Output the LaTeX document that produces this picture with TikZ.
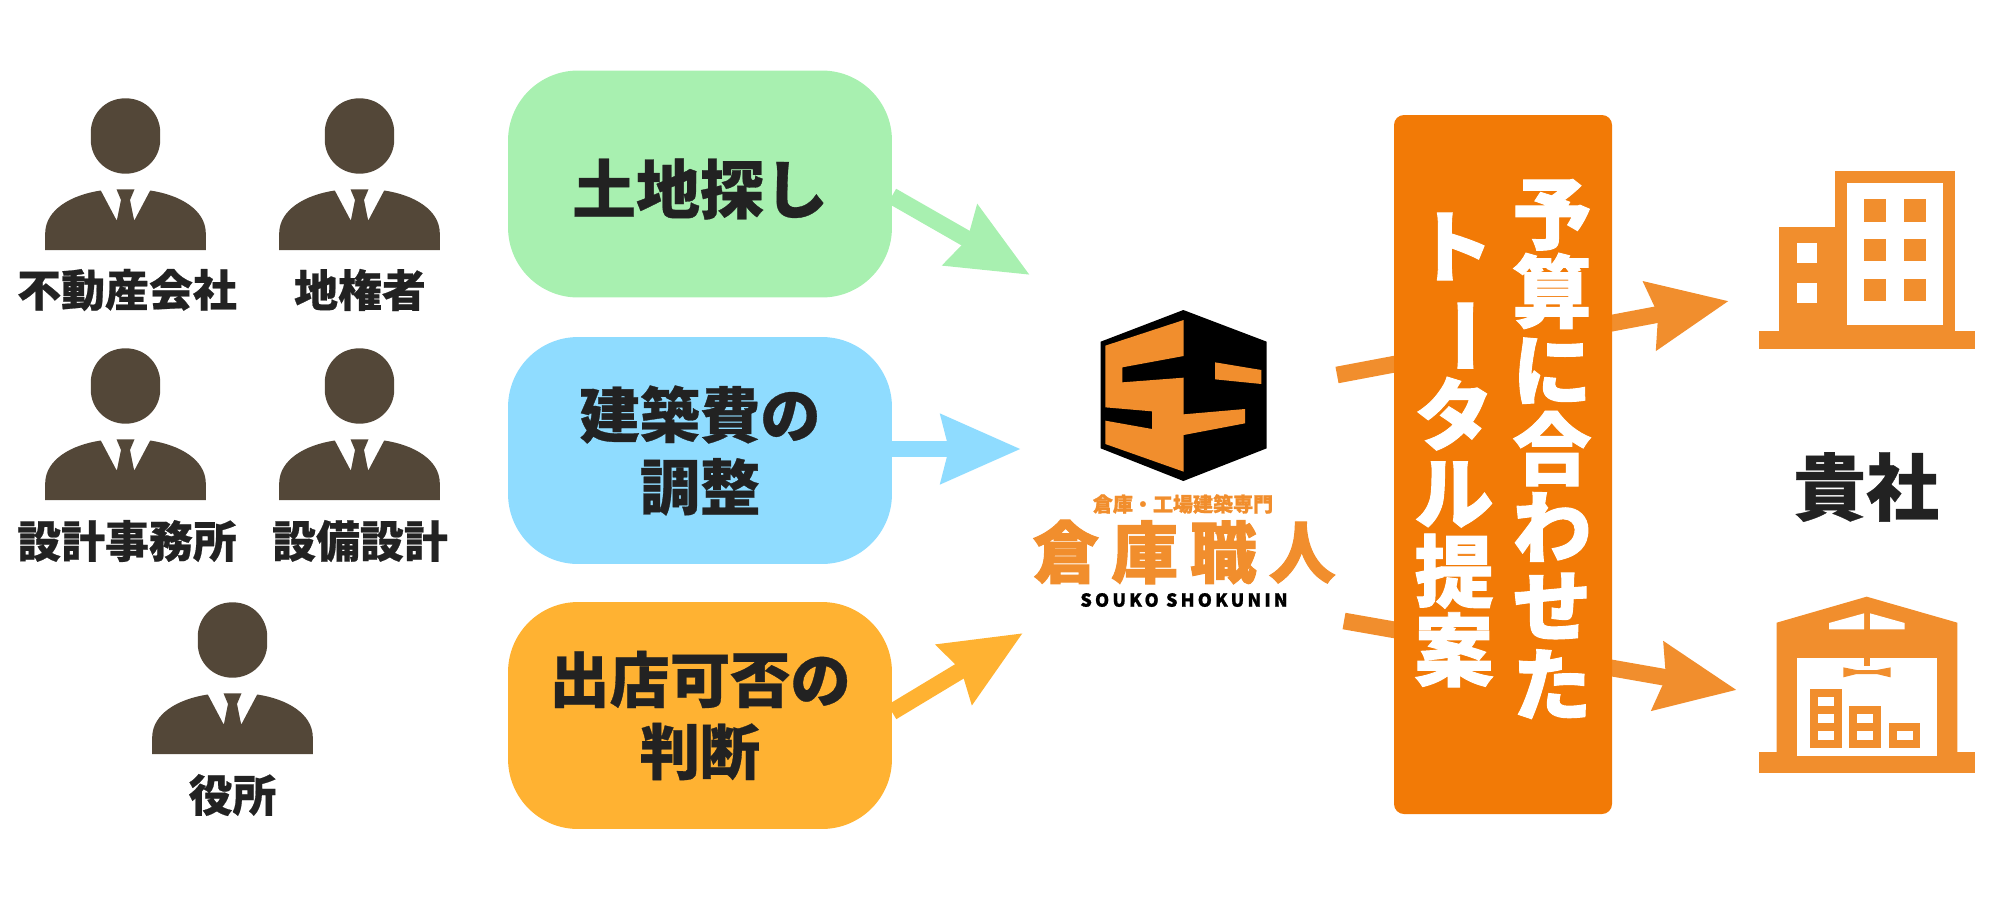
\documentclass[tikz,border=0pt]{standalone}
\usepackage{fontspec}
\usetikzlibrary{arrows.meta}
\newfontfamily\jpfont[BoldFeatures={FakeBold=0.5}]{Noto Sans CJK JP}
\newfontfamily\jpheavy[BoldFeatures={FakeBold=1.2}]{Noto Sans CJK JP}
\newfontfamily\jplogo[LetterSpace=18,BoldFeatures={FakeBold=1.5}]{Noto Sans CJK JP}
\newfontfamily\jproman[LetterSpace=18,BoldFeatures={FakeBold=1}]{Noto Sans CJK JP}
\definecolor{suit}{HTML}{534738}
\definecolor{ink}{HTML}{222222}
\definecolor{mygreen}{HTML}{A8F0B0}
\definecolor{myblue}{HTML}{8FDCFF}
\definecolor{myyellow}{HTML}{FFB232}
\definecolor{boxorange}{HTML}{F27A06}
\definecolor{brand}{HTML}{F18E2D}
\tikzset{
  person label/.style={text=ink,font=\jpfont\bfseries\fontsize{25}{30}\selectfont},
  topic/.style={rounded corners=1.4cm,minimum width=7.68cm,minimum height=4.54cm,align=center,
    text=ink,font=\jpfont\bfseries\fontsize{34.3}{41}\selectfont},
  upright/.style={align=center,text=white,font=\jpheavy\bfseries\fontsize{45}{44.7}\selectfont},
  flow/.style={line width=9.5pt,-{Stealth[length=45pt,width=38pt,inset=4pt]}},
  pics/person/.style={code={
    \fill[suit] (0,-151.7) .. controls (22,-151.7) and (34.7,-134) .. (34.7,-118) -- (34.7,-110)
      .. controls (34.7,-92) and (20,-76.3) .. (0,-76.3) .. controls (-20,-76.3) and (-34.7,-92) .. (-34.7,-110)
      -- (-34.7,-118) .. controls (-34.7,-134) and (-22,-151.7) .. (0,-151.7) -- cycle;
    \fill[suit] (-80.3,0) -- (-80.3,-17) .. controls (-80,-40) and (-55,-55) .. (-24.7,-59.5)
      -- (-8.7,-29.3) -- (-4.5,-50) -- (-9,-60.7) -- (9,-60.7) -- (4.5,-50) -- (8.7,-29.3) -- (24.7,-59.5)
      .. controls (55,-55) and (80,-40) .. (80.3,-17) -- (80.3,0) -- cycle;
  }},
}
\begin{document}
\begin{tikzpicture}[%
      x=0.02cm,y=-0.02cm,
      ]
      \useasboundingbox (0,0) rectangle (2000,900);

      \pic at (125.5,250) {person};
      \pic at (359.5,250) {person};
      \pic at (125.5,500) {person};
      \pic at (359.5,500) {person};
      \pic at (232.5,754) {person};

      \node[person label] (agent) at (127,290) {不動産会社};
      \node[person label] (owner) at (360,290) {地権者};
      \node[person label] (design) at (127,541) {設計事務所};
      \node[person label] (equip) at (360,541) {設備設計};
      \node[person label] (office) at (232.5,795) {役所};

      \coordinate (landout) at (892,196);
      \coordinate (landtip) at (1030,275);
      \coordinate (costout) at (892,449);
      \coordinate (costtip) at (1021,449);
      \coordinate (shopout) at (892,712);
      \coordinate (shoptip) at (1023,633);
      \coordinate (logoup) at (1337,375);
      \coordinate (officetip) at (1729,301);
      \coordinate (logodown) at (1344,621);
      \coordinate (storetip) at (1737,690);

      \draw[flow,color=mygreen] (landout) -- (landtip);
      \draw[flow,color=myblue] (costout) -- (costtip);
      \draw[flow,color=myyellow] (shopout) -- (shoptip);
      \draw[flow,color=brand] (logoup) -- (officetip);
      \draw[flow,color=brand] (logodown) -- (storetip);

      \node[topic,fill=mygreen,font=\jpfont\bfseries\fontsize{36.4}{41}\selectfont] (land) at (700,184) {};
      \node[text=ink,font=\jpfont\bfseries\fontsize{36.4}{41}\selectfont] (landtext) at (700,189) {土地探し};
      \node[topic,fill=myblue] (cost) at (700,450.5) {建築費の\\調整};
      \node[topic,fill=myyellow] (shop) at (700,715.5) {出店可否の\\判断};

      \fill[boxorange,rounded corners=0.2cm] (1394,115) rectangle (1612,814);
      \node[upright] (budget) at (1552,449) {予\\算\\に\\合\\わ\\せ\\た};
      \node[upright] (total) at (1454,450) {ト\\\rotatebox[origin=c]{-90}{ー}\\タ\\ル\\提\\案};

      \begin{scope}[shift={(1000,280)},scale=1/3]
      \fill[black] (550,90) -- (800,185) -- (800,505) -- (550,603) -- (302,505) -- (302,185) -- cycle;
      \fill[brand] (551,120) -- (316,197) -- (316,382) -- (456,394) -- (456,447) -- (316,422) -- (316,492)
        -- (551,575) -- (551,465) -- (735,430) -- (735,387) -- (551,403) -- (551,293) -- (367,307)
        -- (367,262) -- (551,228) -- cycle;
      \fill[brand] (645,247) -- (784,270) -- (784,312) -- (645,298) -- cycle;
      \end{scope}
      \node[text=brand,font=\jpheavy\bfseries\fontsize{11.4}{12}\selectfont] (tagline) at (1183,504) {倉庫・工場建築専門};
      \node[text=brand,font=\jplogo\bfseries\fontsize{38}{40}\selectfont] (brandname) at (1184,552) {倉庫職人};
      \node[text=black,font=\jproman\bfseries\fontsize{10.2}{12}\selectfont] (romaji) at (1184,600) {SOUKO SHOKUNIN};

      \begin{scope}[shift={(1700,150)},scale=1/3]
      \fill[brand] (177,544) rectangle (825,597);
      \fill[brand] (405,63) rectangle (766,544);
      \fill[brand] (236,232) rectangle (442,544);
      \fill[white] (442,100) rectangle (729,524);
      \foreach \wx in {491,612}
        \foreach \wy in {148,267,386}
          \fill[brand] (\wx,\wy) rectangle ++(67,67);
      \fill[white] (290,280) rectangle (351,340);
      \fill[white] (290,398) rectangle (351,458);
      \end{scope}

      \begin{scope}[shift={(1700,580)},scale=1/3]
      \fill[brand] (177,517) rectangle (825,580);
      \fill[brand] (230,128) -- (500,50) -- (772,128) -- (772,517) -- (230,517) -- cycle;
      \fill[white] (290,233) rectangle (711,527);
      \fill[white] (387,148) -- (387,129) -- (492,100) -- (492,148) -- cycle;
      \fill[white] (510,100) -- (614,129) -- (614,148) -- (510,148) -- cycle;
      \fill[brand] (493,233) rectangle (509,258);
      \fill[brand] (430,262) -- (470,270) -- (530,270) -- (572,262) -- (572,292) -- (530,282) -- (470,282) -- (430,292) -- cycle;
      \fill[brand] (330,326) rectangle (425,504);
      \fill[brand] (448,377) rectangle (543,504);
      \fill[brand] (566,429) rectangle (661,504);
      \foreach \bx/\by in {354/350,354/402,354/453,472/402,472/453,590/453}
        \fill[white] (\bx,\by) rectangle ++(48,27);
      \end{scope}

      \node[text=ink,font=\jpfont\bfseries\fontsize{41.5}{46}\selectfont] (client) at (1866,487) {貴社};
      \end{tikzpicture}
\end{document}
